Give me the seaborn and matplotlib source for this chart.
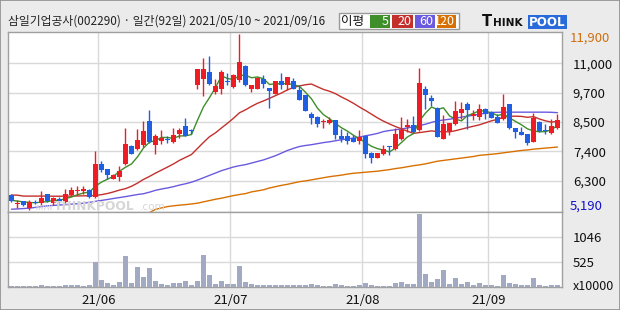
import numpy as np
import pandas as pd
import matplotlib
matplotlib.use("Agg")
import matplotlib.pyplot as plt
import seaborn as sns
from matplotlib.patches import Rectangle
from matplotlib import font_manager as fm

# ---------------- data ----------------
title = "삼일기업공사(002290) · 일간(92일) 2021/05/10 ~ 2021/09/16"

opens = [5774, 5430, 5519, 5265, 5495, 5470, 5786, 5470, 5620, 5494,
         5748, 5900, 5900, 5964, 5697, 6943, 6740, 6384, 6435, 6930,
         7616, 7502, 7655, 8570, 7680, 7833, 7858, 7782, 8100, 8392,
         8200, 9942, 10197, 10451, 9688, 9815, 10095, 9879, 10159, 10680,
         9815, 9815, 10197, 9840, 9612, 10108, 9942, 10095, 9777, 9561,
         8849, 8735, 8545, 8519, 8621, 8011, 7998, 7934, 7820, 8011,
         7362, 7171, 7324, 7616, 7527, 7883, 8341, 8418, 8252, 9815,
         9460, 9078, 7909, 8188, 8481, 8900, 9244, 8773, 8735, 9027,
         8926, 8735, 8646, 9231, 8316, 8163, 8074, 7782, 8545, 8214,
         8138, 8316]
highs = [5790, 5580, 5519, 5560, 5560, 5900, 5786, 5690, 5690, 6002,
         6066, 6105, 6105, 6002, 7426, 7070, 6740, 6574, 6854, 8316,
         7655, 8290, 8582, 9002, 8100, 8227, 7998, 8328, 8328, 8697,
         8290, 10578, 10985, 11061, 10197, 10540, 10413, 10387, 11900, 10705,
         9968, 10247, 10324, 9840, 10120, 10413, 10260, 10222, 9942, 9587,
         8926, 8773, 8646, 8735, 8621, 8265, 8163, 8036, 8227, 8036,
         7400, 7375, 7655, 7616, 8316, 8735, 8646, 8773, 10603, 9917,
         9587, 9116, 8799, 8494, 9345, 9307, 9307, 8989, 9244, 9078,
         8964, 8862, 9625, 9231, 8316, 8354, 8100, 8900, 8570, 8481,
         8646, 8862]
lows = [5500, 5280, 5330, 5190, 5430, 5392, 5500, 5392, 5470, 5470,
        5723, 5774, 5812, 5660, 5646, 6638, 6384, 6384, 6295, 6892,
        7311, 7464, 7591, 7756, 7337, 7718, 7744, 7744, 7934, 8023,
        8100, 9815, 9523, 9942, 9625, 9625, 9968, 9853, 10070, 9917,
        9688, 9790, 9840, 9078, 9612, 9815, 9750, 9790, 9370, 8951,
        8481, 8354, 8316, 8481, 7883, 7782, 7718, 7782, 7718, 7171,
        6994, 7171, 7273, 7298, 7464, 7845, 8163, 8125, 8188, 9053,
        9154, 7960, 7883, 8061, 8443, 8646, 8290, 8608, 8608, 8672,
        8697, 8519, 8608, 8290, 7934, 8061, 7680, 7782, 8163, 8100,
        8100, 8290]
closes = [5519, 5450, 5392, 5494, 5470, 5660, 5519, 5647, 5494, 5812,
          5951, 5951, 5976, 5685, 6943, 6714, 6511, 6511, 6663, 7705,
          7337, 7858, 8201, 7782, 8011, 7934, 7845, 8036, 8240, 8023,
          8190, 10578, 10578, 10006, 9917, 10451, 10070, 10349, 10832, 9942,
          9968, 10222, 10006, 9740, 10095, 9942, 10260, 9815, 9396, 8977,
          8697, 8481, 8570, 8633, 8062, 7883, 7833, 7782, 7972, 7337,
          7171, 7375, 7527, 7600, 8100, 8227, 8430, 8163, 10031, 9587,
          9358, 7985, 8468, 8494, 8964, 9027, 9015, 8862, 9027, 8849,
          8710, 8519, 9116, 8328, 8163, 8061, 7756, 8697, 8188, 8201,
          8392, 8621]
# volume in units of 10,000 shares
volumes = [22, 22, 22, 22, 22, 43, 22, 22, 22, 43,
           43, 43, 22, 43, 528, 142, 78, 36, 100, 651,
           78, 425, 212, 403, 121, 64, 36, 78, 78, 121,
           36, 121, 672, 248, 57, 121, 57, 57, 439, 100,
           57, 36, 36, 36, 36, 36, 36, 36, 36, 36,
           57, 36, 15, 15, 57, 36, 15, 15, 36, 78,
           36, 15, 15, 15, 78, 100, 57, 57, 1541, 269,
           100, 163, 354, 57, 184, 57, 100, 36, 78, 36,
           36, 15, 248, 78, 57, 36, 36, 184, 36, 15,
           36, 36]

# moving averages: first values (need history before the window)
ma5_head = [5560, 5530, 5500, 5480]
ma20_head = [5760, 5755, 5720, 5720, 5720, 5720, 5720, 5715, 5715, 5720,
             5720, 5725, 5730, 5730, 5750, 5775, 5820, 5880, 5950]
ma60 = [5220, 5230, 5245, 5260, 5290, 5320, 5350, 5365, 5380, 5395,
        5415, 5430, 5450, 5480, 5520, 5555, 5590, 5630, 5665, 5700,
        5740, 5780, 5810, 5870, 5940, 5990, 6030, 6080, 6140, 6190,
        6250, 6330, 6420, 6510, 6600, 6690, 6760, 6830, 6880, 6920,
        6980, 7040, 7100, 7180, 7260, 7360, 7460, 7540, 7610, 7650,
        7680, 7720, 7760, 7790, 7830, 7870, 7900, 7930, 7970, 8020,
        8060, 8110, 8180, 8220, 8250, 8280, 8320, 8360, 8410, 8460,
        8530, 8590, 8620, 8650, 8690, 8730, 8770, 8800, 8840, 8880,
        8910, 8915, 8920, 8920, 8920, 8920, 8920, 8920, 8920, 8920,
        8915, 8900]
ma120 = [np.nan] * 23 + [
        5090, 5215, 5270, 5320, 5350, 5375, 5395, 5420, 5450, 5500,
        5550, 5600, 5640, 5690, 5740, 5780, 5815, 5880, 5920, 5960,
        6030, 6080, 6130, 6170, 6220, 6270, 6300, 6340, 6380, 6420,
        6460, 6490, 6520, 6560, 6590, 6610, 6630, 6650, 6670, 6700,
        6730, 6770, 6800, 6840, 6880, 6910, 6950, 7000, 7050, 7080,
        7110, 7140, 7170, 7200, 7230, 7275, 7295, 7315, 7340, 7370,
        7400, 7430, 7460, 7480, 7510, 7530, 7550, 7570, 7590]

month_labels = ["21/06", "21/07", "21/08", "21/09"]
month_first_idx = [15, 37, 59, 80]
price_min, price_max = 5190, 11900
price_grid_labels = ["6,300", "7,400", "8,500", "9,700", "11,000"]
vol_ticks = [525, 1046]
vol_tick_labels = ["525", "1046"]
legend_periods = ["5", "20", "60", "120"]

# ---------------- styling ----------------
RED = "#EE1C25"
BLUE = "#1F5FE3"
MA_COLORS = ["#3E8E2A", "#C3302C", "#6A5ADF", "#D87000"]
VOL_COLOR = "#A1AAC2"
GRID = "#D9D9D9"
FRAME = "#A0A0A0"
BG = "#EBEBEB"

sns.set_theme(style="white")
names = {f.name for f in fm.fontManager.ttflist}
NUMFONT = "Liberation Sans Narrow" if "Liberation Sans Narrow" in names else "Noto Sans CJK KR"
plt.rcParams["font.family"] = ["Noto Sans CJK KR", "DejaVu Sans"]

W, H = 620, 310
def fx(x):
    return x / W
def fy(y):
    return 1 - y / H

fig = plt.figure(figsize=(6.2, 3.1), dpi=100, facecolor=BG)

L, R = 7.7, 561.7
T, M, B = 32.0, 212.3, 286.7
ax = fig.add_axes([fx(L), fy(M), (R - L) / W, (M - T) / H])
axv = fig.add_axes([fx(L), fy(B), (R - L) / W, (B - M) / H])

df = pd.DataFrame(dict(i=np.arange(len(closes)), open=opens, high=highs,
                       low=lows, close=closes, volume=volumes))
s = df["close"].astype(float)
ma5 = s.rolling(5).mean().to_numpy()
ma5[:len(ma5_head)] = ma5_head
ma20 = s.rolling(20).mean().to_numpy()
ma20[:len(ma20_head)] = ma20_head
df["ma5"] = ma5
df["ma20"] = ma20
df["ma60"] = ma60
df["ma120"] = ma120

xlo, xhi = -0.63, 91.7
ppx = (price_max - price_min) / 176.0
ylo = price_max - (M - 34.0) * ppx
yhi = price_max + (34.0 - T) * ppx

# volume (categorical positions 0..91 coincide with the candle index)
sns.barplot(data=df, x="i", y="volume", ax=axv, order=list(df["i"]),
            color=VOL_COLOR, saturation=1, width=0.84, errorbar=None,
            linewidth=0, zorder=3)

for a in (ax, axv):
    a.set_facecolor("white")
    for m in month_first_idx:
        a.axvline(m - 0.5, color=GRID, lw=1.0, zorder=0)
    for sp in a.spines.values():
        sp.set_color(FRAME)
        sp.set_linewidth(1.0)
    a.set_xticks([])
    a.set_xlabel("")
    a.set_ylabel("")

# price grid
grid_levels = np.linspace(price_min, price_max, 7)[1:6]
for g in grid_levels:
    ax.axhline(g, color=GRID, lw=1.0, zorder=0)

# watermark
fig.text(fx(35), fy(207.5), "www.", fontsize=5.5, color="#D6D6D6", va="center",
         family="DejaVu Sans")
fig.text(fx(54), fy(206.5), "THINKPOOL", fontsize=8.8, color="#D6D6D6",
         va="center", weight="bold", family="DejaVu Sans")
fig.text(fx(140), fy(207.5), ".com", fontsize=7.5, color="#D6D6D6",
         va="center", family="DejaVu Sans")

# moving averages
for col, c in zip(["ma120", "ma60", "ma20", "ma5"], MA_COLORS[::-1]):
    sns.lineplot(data=df, x="i", y=col, ax=ax, color=c, lw=1.0, zorder=2)

# candles
up = df["close"] >= df["open"]
cols = np.where(up, RED, BLUE)
ax.vlines(df["i"], df["low"], df["high"], colors=cols, lw=1.0, zorder=3)
body_bottom = np.minimum(df["open"], df["close"])
body_h = np.maximum((df["close"] - df["open"]).abs(), 35)
ax.bar(df["i"], body_h, bottom=body_bottom, width=0.78, color=cols,
       linewidth=0, zorder=4)

ax.set_xlim(xlo, xhi)
ax.set_ylim(ylo, yhi)
ax.yaxis.tick_right()
ax.set_yticks(grid_levels)
ax.set_yticklabels(price_grid_labels)
ax.tick_params(axis="y", length=0, pad=8, labelsize=9.5, colors="#111111")
for t in ax.get_yticklabels():
    t.set_family(NUMFONT)
ax.set_xticks([])
ax.set_xlabel("")
ax.set_ylabel("")

fig.text(fx(570), fy(38), "11,900", color="#D07010", fontsize=9.5,
         family=NUMFONT, va="center", ha="left")
fig.text(fx(570), fy(206), "5,190", color="#1414C8", fontsize=9.5,
         family=NUMFONT, va="center", ha="left")

axv.set_xlim(xlo, xhi)
vtop = (B - M) * (1046 / (B - 237.4))
axv.set_ylim(0, vtop)
for v in vol_ticks:
    axv.axhline(v, color=GRID, lw=1.0, zorder=0)
axv.yaxis.tick_right()
axv.set_yticks(vol_ticks)
axv.set_yticklabels(vol_tick_labels)
axv.tick_params(axis="y", length=0, pad=8, labelsize=9.5, colors="#111111")
for t in axv.get_yticklabels():
    t.set_family(NUMFONT)
axv.set_xticks([])
axv.set_xlabel("")
axv.set_ylabel("")
fig.text(fx(573), fy(287), "x10000", fontsize=9, family=NUMFONT,
         va="center", ha="left", color="#111111")

# month labels
for lab, m in zip(month_labels, month_first_idx):
    xpix = L + (m - 0.5 - xlo) / (xhi - xlo) * (R - L)
    fig.text(fx(xpix), fy(301), lab, fontsize=9.5, family=NUMFONT,
             ha="center", va="center", color="#111111")

# header
fig.text(fx(8), fy(21), title, fontsize=8.5, ha="left", va="center",
         color="#222222", family=["Noto Sans CJK KR", "DejaVu Sans"])

fig.patches.append(Rectangle((fx(339), fy(29.3)), (459 - 339) / W, (29.3 - 12.7) / H,
                             transform=fig.transFigure, facecolor="white",
                             edgecolor="#9A9A9A", lw=1.0))
fig.text(fx(352), fy(21), "이평", fontsize=9, ha="center", va="center",
         color="#111111", family=["Noto Sans CJK KR", "DejaVu Sans"])
boxes = [(370, 390), (392, 413), (415, 435), (437, 456)]
for (x0, x1), lab, c in zip(boxes, legend_periods, MA_COLORS):
    fig.patches.append(Rectangle((fx(x0), fy(27.5)), (x1 - x0) / W, 12.5 / H,
                                 transform=fig.transFigure, facecolor=c,
                                 edgecolor="none"))
    fig.text(fx(x1 - 1.5), fy(21.3), lab, fontsize=9, ha="right", va="center",
             color="white", family=NUMFONT)

# logo
fig.text(fx(482), fy(22), "T", fontsize=10.5, weight="bold", ha="left",
         va="center", color="#111111", family="DejaVu Sans")
fig.text(fx(493), fy(22.5), "HINK", fontsize=7.6, weight="bold", ha="left",
         va="center", color="#111111", family="DejaVu Sans")
fig.patches.append(Rectangle((fx(528), fy(28.5)), (567 - 528) / W, 13.5 / H,
                             transform=fig.transFigure, facecolor="#2A6BDB",
                             edgecolor="none"))
fig.text(fx(547.5), fy(22), "POOL", fontsize=8.6, weight="bold", ha="center",
         va="center", color="white", family="DejaVu Sans")

# outer frame
fig.patches.append(Rectangle((0.0008, 0.0016), 0.9984, 0.9968,
                             transform=fig.transFigure, facecolor="none",
                             edgecolor="#8E8E8E", lw=1.2))

fig.savefig("out.png", dpi=100, facecolor=BG)
